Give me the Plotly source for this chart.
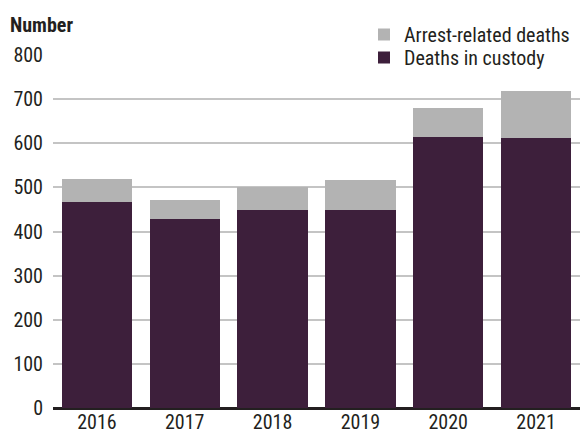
import plotly.graph_objects as go

years = ["2016", "2017", "2018", "2019", "2020", "2021"]
custody = [467, 429, 449, 449, 614, 612]
arrest = [52, 43, 52, 68, 66, 107]
yticks = [0, 100, 200, 300, 400, 500, 600, 700, 800]

FONT = "Roboto Condensed, sans-serif"
TXT = "#231f20"

L, R, T, B = 53, 0, 55, 27
W, H = 580, 435
ph = H - T - B
pw = W - L - R


def py(y_px):
    return (H - B - y_px) / ph


def px(x_px):
    return (x_px - L) / pw


fig = go.Figure()
fig.add_trace(go.Bar(x=years, y=custody, name="Deaths in custody", legend="legend",
                     marker=dict(color="#3d1f3b", line=dict(width=0))))
fig.add_trace(go.Bar(x=years, y=arrest, name="Arrest-related deaths", legend="legend2",
                     marker=dict(color="#b3b3b3", line=dict(width=0))))

leg_common = dict(xanchor="left", yanchor="top",
                  font=dict(size=20, family=FONT, color=TXT), itemwidth=30)

fig.update_layout(
    barmode="stack",
    bargap=0.2,
    width=W, height=H,
    margin=dict(l=L, r=R, t=T, b=B, autoexpand=False),
    paper_bgcolor="white", plot_bgcolor="white",
    font=dict(family=FONT, size=20, color=TXT),
    legend2=dict(x=px(364), y=py(15), bgcolor="rgba(255,255,255,0)", **leg_common),
    legend=dict(x=px(364), y=py(38), bgcolor="white", **leg_common),
    showlegend=True,
    hovermode=False,
)
fig.add_annotation(text="<b>Number</b>", x=px(8), xref="paper", xanchor="left",
                   y=py(25), yref="paper", yanchor="middle", showarrow=False,
                   font=dict(size=20, family=FONT, color=TXT))
fig.update_yaxes(range=[0, 800], tickvals=yticks, showgrid=True,
                 gridcolor="#c4c4c4", gridwidth=1.5, zeroline=True,
                 zerolinecolor=TXT, zerolinewidth=2.5,
                 ticks="", ticklabelstandoff=9, fixedrange=True,
                 tickfont=dict(size=20, family=FONT, color=TXT))
fig.update_xaxes(showline=False, ticks="", tickfont=dict(size=20, family=FONT, color=TXT),
                 ticklabelstandoff=0, fixedrange=True)
fig.write_html("out.html", config={"displayModeBar": False},
               post_script="document.body.style.margin='0';document.body.style.padding='0';")
